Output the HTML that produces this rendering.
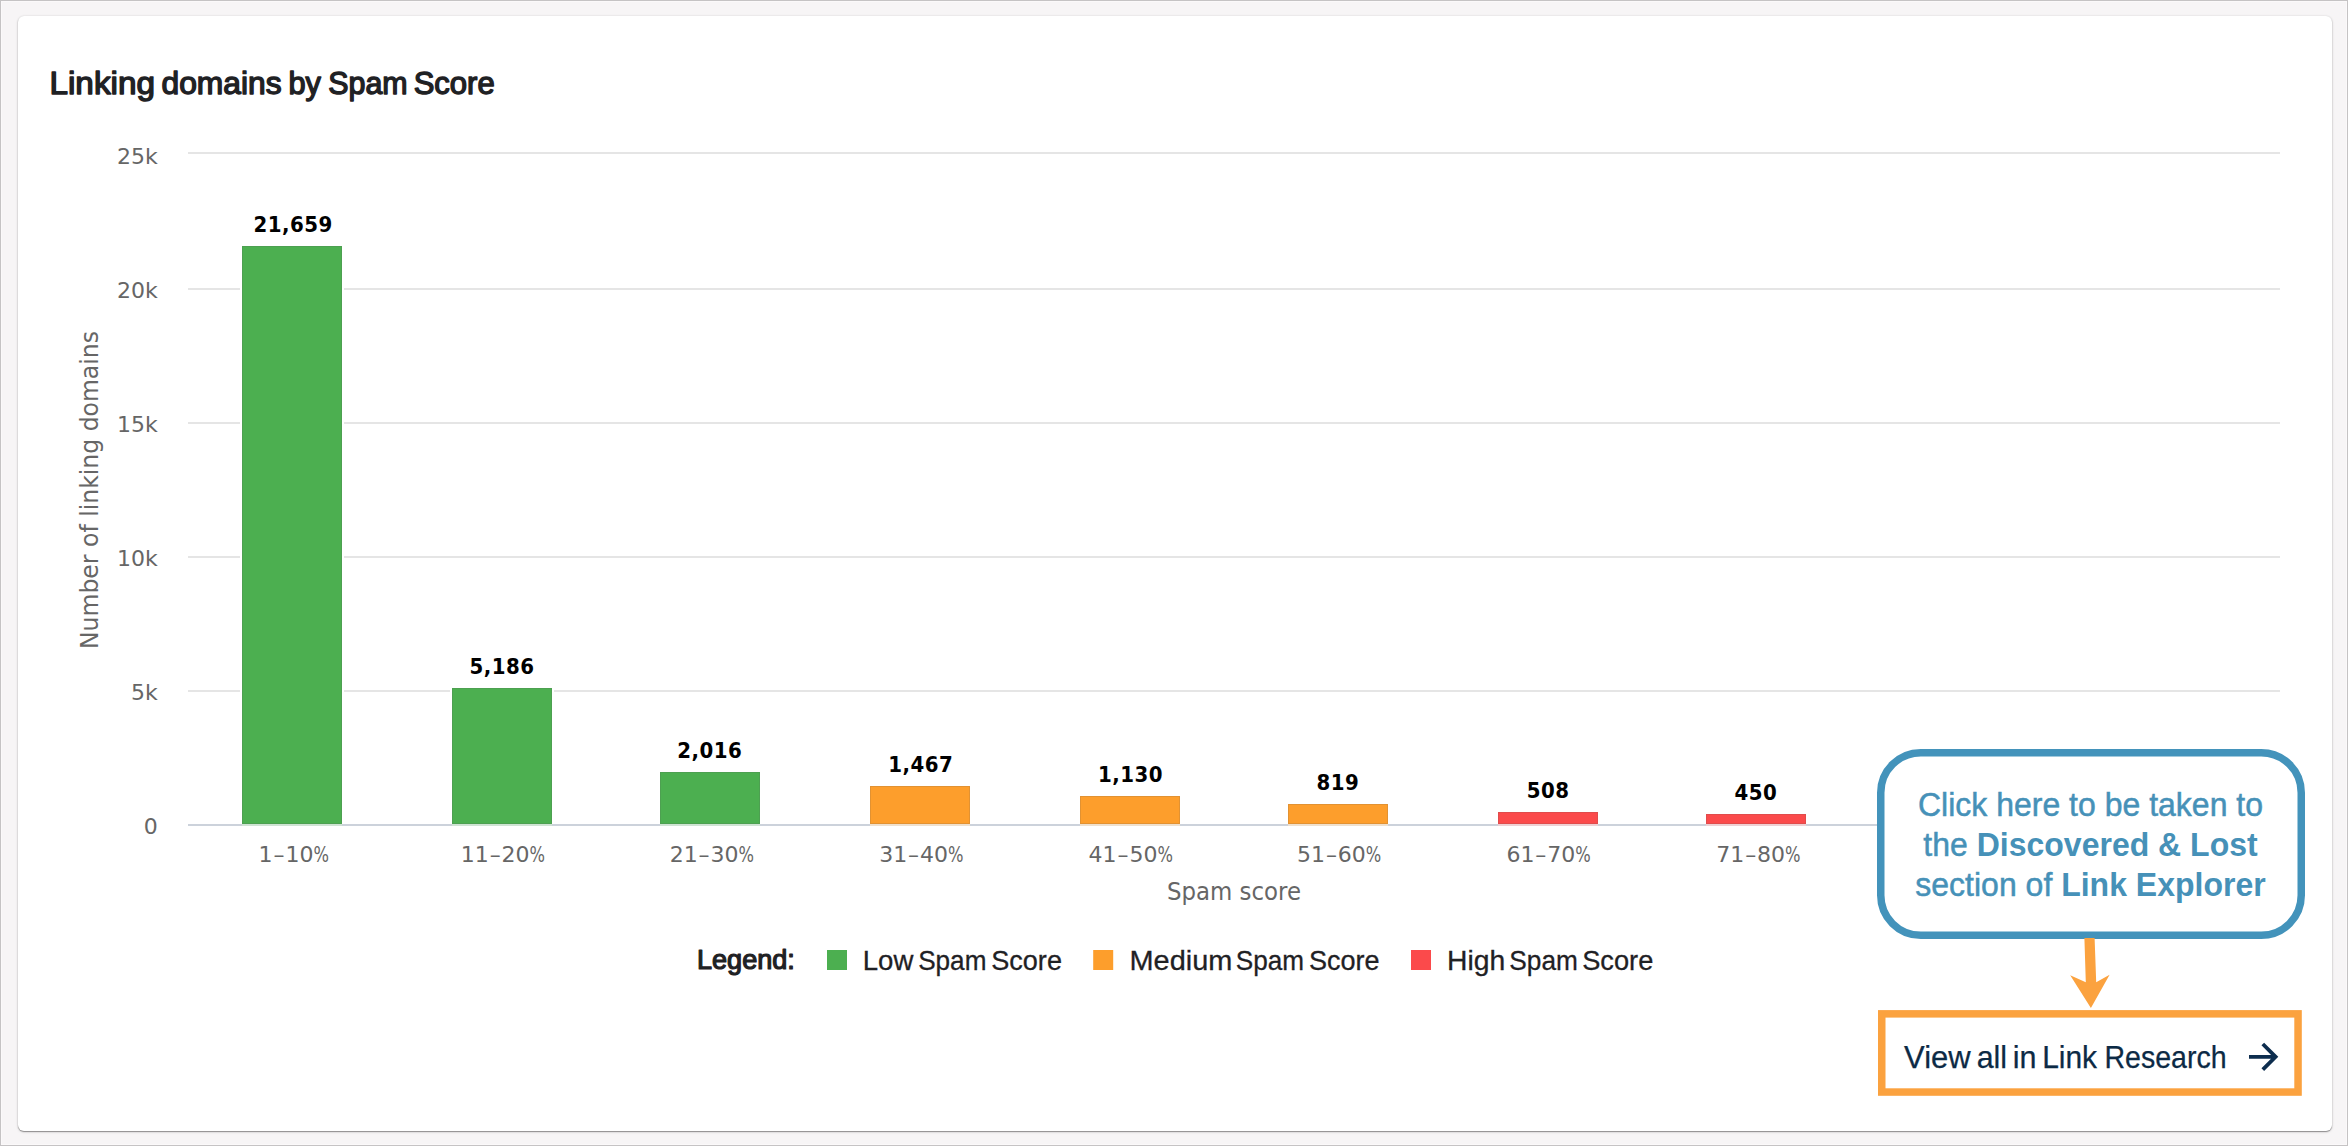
<!DOCTYPE html>
<html lang="en"><head><meta charset="utf-8"><title>Linking domains by Spam Score</title>
<style>
html,body{margin:0;padding:0}
body{width:2348px;height:1146px;overflow:hidden;background:#f7f5f6;position:relative;font-family:"Liberation Sans",sans-serif}
.frame{position:absolute;left:0;top:0;width:2346px;height:1144px;border:1px solid #c5c3c4;box-shadow:inset 0 0 0 1px #fbf9fa}
.card{position:absolute;left:18px;top:16px;width:2314px;height:1115px;background:#fff;border-radius:6px;box-shadow:0 1px 1px rgba(0,0,0,.34),0 1px 3px rgba(0,0,0,.14),0 0 2px rgba(0,0,0,.10)}
svg{position:absolute;left:0;top:0}
.ax{font-family:"DejaVu Sans","Liberation Sans",sans-serif;font-size:22px;fill:#666}
.at{font-family:"DejaVu Sans","Liberation Sans",sans-serif;font-size:24px;fill:#666}
.dl{font-family:"DejaVu Sans Condensed","DejaVu Sans","Liberation Sans",sans-serif;font-size:22px;font-weight:bold;fill:#000;letter-spacing:0.5px}
.ttl{font-family:"Liberation Sans",sans-serif;font-weight:normal;font-size:31.5px;fill:#1f2124;stroke:#1f2124;stroke-width:1.4px;stroke-linejoin:round}
.lg{font-family:"Liberation Sans",sans-serif;font-size:28.5px;fill:#1f2124;stroke:#1f2124;stroke-width:.3px}
.lgb{font-family:"Liberation Sans",sans-serif;font-size:26.9px;fill:#1f2124;stroke:#1f2124;stroke-width:1.2px;stroke-linejoin:round}
.cb{font-family:"Liberation Sans",sans-serif;font-size:33.2px;fill:#4691b8;stroke:#4691b8;stroke-width:.5px}
.cb tspan{stroke:none}
.va{font-family:"Liberation Sans",sans-serif;font-size:30.5px;fill:#0c2a45;stroke:#0c2a45;stroke-width:.25px}
</style></head><body>
<div class="frame"></div>
<div class="card"></div>
<svg width="2348" height="1146" viewBox="0 0 2348 1146">
<text class="ttl" y="94.2" ><tspan x="49.43" textLength="105.61" lengthAdjust="spacingAndGlyphs">Linking</tspan> <tspan x="161.49" textLength="120.1" lengthAdjust="spacingAndGlyphs">domains</tspan> <tspan x="288.45" textLength="32.42" lengthAdjust="spacingAndGlyphs">by</tspan> <tspan x="328.37" textLength="79.29" lengthAdjust="spacingAndGlyphs">Spam</tspan> <tspan x="413.68" textLength="80.99" lengthAdjust="spacingAndGlyphs">Score</tspan></text>
<rect x="188" y="152" width="2092" height="2" fill="#e5e5e5"/>
<rect x="188" y="288" width="2092" height="2" fill="#e5e5e5"/>
<rect x="188" y="422" width="2092" height="2" fill="#e5e5e5"/>
<rect x="188" y="556" width="2092" height="2" fill="#e5e5e5"/>
<rect x="188" y="690" width="2092" height="2" fill="#e5e5e5"/>
<rect x="188" y="824" width="2092" height="2" fill="#ccd2db"/>
<text class="ax" x="157.7" y="163.8" text-anchor="end">25k</text>
<text class="ax" x="157.7" y="297.9" text-anchor="end">20k</text>
<text class="ax" x="157.7" y="431.9" text-anchor="end">15k</text>
<text class="ax" x="157.7" y="565.9" text-anchor="end">10k</text>
<text class="ax" x="157.7" y="699.9" text-anchor="end">5k</text>
<text class="ax" x="157.7" y="833.9" text-anchor="end">0</text>
<text class="at" transform="translate(98,490) rotate(-90)" text-anchor="middle" textLength="318" lengthAdjust="spacingAndGlyphs">Number of linking domains</text>
<text class="at" x="1234" y="899.5" text-anchor="middle" textLength="134" lengthAdjust="spacingAndGlyphs">Spam score</text>
<rect x="240" y="244" width="104" height="580" fill="#fff"/><rect x="242" y="824" width="100" height="2" fill="#fff" fill-opacity=".62"/><rect x="242" y="824" width="100" height="2" fill="#4caf50" fill-opacity=".18"/><rect x="242" y="246" width="100" height="578" fill="#4caf50"/><rect x="242.5" y="246.5" width="99" height="577" fill="none" stroke="#555" stroke-opacity=".16"/>
<text class="dl" x="293.1" y="232" text-anchor="middle">21,659</text><text class="ax" x="258.6" y="862">1<tspan dx=".9">–</tspan><tspan dx=".9">10</tspan><tspan textLength="15.5" lengthAdjust="spacingAndGlyphs">%</tspan></text>
<rect x="450" y="686" width="104" height="138" fill="#fff"/><rect x="452" y="824" width="100" height="2" fill="#fff" fill-opacity=".62"/><rect x="452" y="824" width="100" height="2" fill="#4caf50" fill-opacity=".18"/><rect x="452" y="688" width="100" height="136" fill="#4caf50"/><rect x="452.5" y="688.5" width="99" height="135" fill="none" stroke="#555" stroke-opacity=".16"/>
<text class="dl" x="502.0" y="674" text-anchor="middle">5,186</text><text class="ax" x="460.8" y="862">11<tspan dx=".9">–</tspan><tspan dx=".9">20</tspan><tspan textLength="15.5" lengthAdjust="spacingAndGlyphs">%</tspan></text>
<rect x="658" y="770" width="104" height="54" fill="#fff"/><rect x="660" y="824" width="100" height="2" fill="#fff" fill-opacity=".62"/><rect x="660" y="824" width="100" height="2" fill="#4caf50" fill-opacity=".18"/><rect x="660" y="772" width="100" height="52" fill="#4caf50"/><rect x="660.5" y="772.5" width="99" height="51" fill="none" stroke="#555" stroke-opacity=".16"/>
<text class="dl" x="709.7" y="758" text-anchor="middle">2,016</text><text class="ax" x="669.7" y="862">21<tspan dx=".9">–</tspan><tspan dx=".9">30</tspan><tspan textLength="15.5" lengthAdjust="spacingAndGlyphs">%</tspan></text>
<rect x="868" y="784" width="104" height="40" fill="#fff"/><rect x="870" y="824" width="100" height="2" fill="#fff" fill-opacity=".62"/><rect x="870" y="824" width="100" height="2" fill="#fd9e2c" fill-opacity=".18"/><rect x="870" y="786" width="100" height="38" fill="#fd9e2c"/><rect x="870.5" y="786.5" width="99" height="37" fill="none" stroke="#555" stroke-opacity=".16"/>
<text class="dl" x="920.7" y="772" text-anchor="middle">1,467</text><text class="ax" x="879.2" y="862">31<tspan dx=".9">–</tspan><tspan dx=".9">40</tspan><tspan textLength="15.5" lengthAdjust="spacingAndGlyphs">%</tspan></text>
<rect x="1078" y="794" width="104" height="30" fill="#fff"/><rect x="1080" y="824" width="100" height="2" fill="#fff" fill-opacity=".62"/><rect x="1080" y="824" width="100" height="2" fill="#fd9e2c" fill-opacity=".18"/><rect x="1080" y="796" width="100" height="28" fill="#fd9e2c"/><rect x="1080.5" y="796.5" width="99" height="27" fill="none" stroke="#555" stroke-opacity=".16"/>
<text class="dl" x="1130.5" y="782" text-anchor="middle">1,130</text><text class="ax" x="1088.6" y="862">41<tspan dx=".9">–</tspan><tspan dx=".9">50</tspan><tspan textLength="15.5" lengthAdjust="spacingAndGlyphs">%</tspan></text>
<rect x="1286" y="802" width="104" height="22" fill="#fff"/><rect x="1288" y="824" width="100" height="2" fill="#fff" fill-opacity=".62"/><rect x="1288" y="824" width="100" height="2" fill="#fd9e2c" fill-opacity=".18"/><rect x="1288" y="804" width="100" height="20" fill="#fd9e2c"/><rect x="1288.5" y="804.5" width="99" height="19" fill="none" stroke="#555" stroke-opacity=".16"/>
<text class="dl" x="1338.0" y="790" text-anchor="middle">819</text><text class="ax" x="1297.0" y="862">51<tspan dx=".9">–</tspan><tspan dx=".9">60</tspan><tspan textLength="15.5" lengthAdjust="spacingAndGlyphs">%</tspan></text>
<rect x="1496" y="810" width="104" height="14" fill="#fff"/><rect x="1498" y="824" width="100" height="2" fill="#fff" fill-opacity=".62"/><rect x="1498" y="824" width="100" height="2" fill="#fb4a4b" fill-opacity=".18"/><rect x="1498" y="812" width="100" height="12" fill="#fb4a4b"/><rect x="1498.5" y="812.5" width="99" height="11" fill="none" stroke="#555" stroke-opacity=".16"/>
<text class="dl" x="1548.1" y="798" text-anchor="middle">508</text><text class="ax" x="1506.4" y="862">61<tspan dx=".9">–</tspan><tspan dx=".9">70</tspan><tspan textLength="15.5" lengthAdjust="spacingAndGlyphs">%</tspan></text>
<rect x="1704" y="812" width="104" height="12" fill="#fff"/><rect x="1706" y="824" width="100" height="2" fill="#fff" fill-opacity=".62"/><rect x="1706" y="824" width="100" height="2" fill="#fb4a4b" fill-opacity=".18"/><rect x="1706" y="814" width="100" height="10" fill="#fb4a4b"/><rect x="1706.5" y="814.5" width="99" height="9" fill="none" stroke="#555" stroke-opacity=".16"/>
<text class="dl" x="1755.8" y="800" text-anchor="middle">450</text><text class="ax" x="1716.3" y="862">71<tspan dx=".9">–</tspan><tspan dx=".9">80</tspan><tspan textLength="15.5" lengthAdjust="spacingAndGlyphs">%</tspan></text>
<text class="lgb" y="968.7" ><tspan x="696.99" textLength="97.83" lengthAdjust="spacingAndGlyphs">Legend:</tspan></text>
<rect x="827" y="950" width="20" height="20" fill="#4caf50"/><text class="lg" y="969.8" ><tspan x="862.76" textLength="50.62" lengthAdjust="spacingAndGlyphs">Low</tspan> <tspan x="918.17" textLength="68.27" lengthAdjust="spacingAndGlyphs">Spam</tspan> <tspan x="991.2" textLength="70.78" lengthAdjust="spacingAndGlyphs">Score</tspan></text>
<rect x="1093.2" y="950" width="20" height="20" fill="#fd9e2c"/><text class="lg" y="969.8" ><tspan x="1129.47" textLength="102.84" lengthAdjust="spacingAndGlyphs">Medium</tspan> <tspan x="1235.77" textLength="68.27" lengthAdjust="spacingAndGlyphs">Spam</tspan> <tspan x="1308.9" textLength="70.57" lengthAdjust="spacingAndGlyphs">Score</tspan></text>
<rect x="1411" y="950" width="20" height="20" fill="#fb4a4b"/><text class="lg" y="969.8" ><tspan x="1447.11" textLength="58.2" lengthAdjust="spacingAndGlyphs">High</tspan> <tspan x="1509.36" textLength="68.58" lengthAdjust="spacingAndGlyphs">Spam</tspan> <tspan x="1582.19" textLength="71.1" lengthAdjust="spacingAndGlyphs">Score</tspan></text>
<rect x="1880.75" y="752.75" width="420.5" height="182.5" rx="40" ry="40" fill="#fff" stroke="#4393bb" stroke-width="7.5"/>
<text class="cb" x="1917.96" y="815.9" textLength="345.08" lengthAdjust="spacingAndGlyphs">Click here to be taken to</text>
<text class="cb" x="1923.33" y="855.9" textLength="334.34" lengthAdjust="spacingAndGlyphs">the <tspan font-weight="bold">Discovered &amp; Lost</tspan></text>
<text class="cb" x="1915.32" y="895.9" textLength="350.36" lengthAdjust="spacingAndGlyphs">section of <tspan font-weight="bold">Link Explorer</tspan></text>
<path d="M2084.4 938 L2094.6 938 L2096.2 982.2 L2109.6 974.8 L2090.9 1008 L2070.2 975.2 L2085.8 982.2 Z" fill="#fba23f"/>
<rect x="1881.75" y="1013.85" width="416.3" height="78.2" fill="#fff" stroke="#fba23f" stroke-width="7.5"/>
<text class="va" y="1067.7" ><tspan x="1904.1" textLength="66.57" lengthAdjust="spacingAndGlyphs">View</tspan> <tspan x="1976.7" textLength="30.4" lengthAdjust="spacingAndGlyphs">all</tspan> <tspan x="2012.8" textLength="23.75" lengthAdjust="spacingAndGlyphs">in</tspan> <tspan x="2042.16" textLength="54.9" lengthAdjust="spacingAndGlyphs">Link</tspan> <tspan x="2104.49" textLength="122.09" lengthAdjust="spacingAndGlyphs">Research</tspan></text>
<path d="M2249 1056.8 H2275.5 M2262.8 1044 L2275.6 1056.8 L2262.8 1069.6" fill="none" stroke="#0d2d4e" stroke-width="3.8" stroke-linecap="butt" stroke-linejoin="miter"/>
</svg>
</body></html>
